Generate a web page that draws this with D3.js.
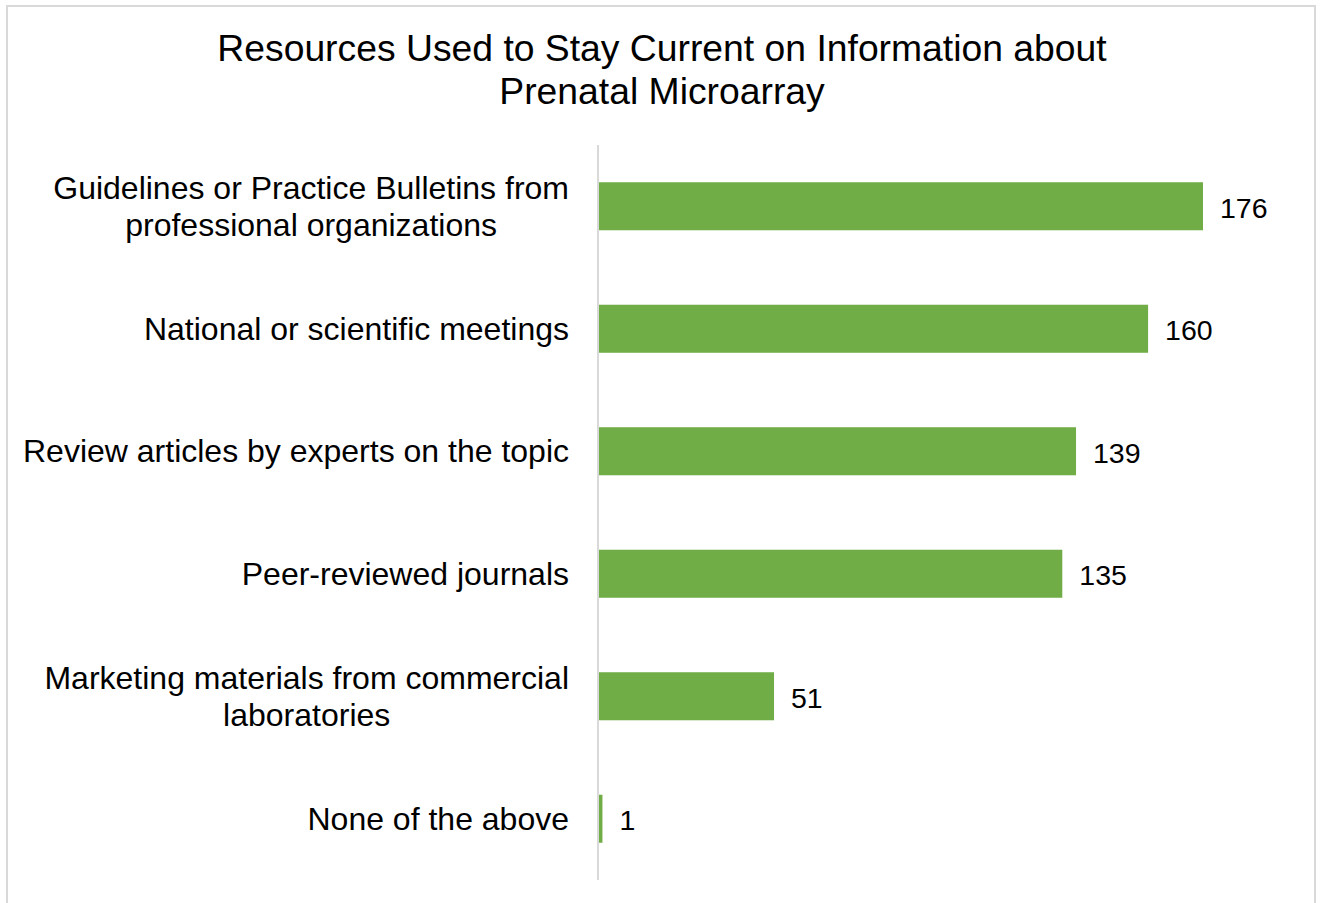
<!DOCTYPE html>
<html>
<head>
<meta charset="utf-8">
<script src="https://cdn.jsdelivr.net/npm/d3@7"></script>
<style>
  html, body { margin: 0; padding: 0; background: #fff; }
  svg { display: block; font-family: "Liberation Sans", Arial, sans-serif; }
</style>
</head>
<body>
<svg id="chart" width="1323" height="903"></svg>
<script>
// Survey responses: resources used to stay current on prenatal microarray
const categories = [
  ["Guidelines or Practice Bulletins from", "professional organizations"],
  ["National or scientific meetings"],
  ["Review articles by experts on the topic"],
  ["Peer-reviewed journals"],
  ["Marketing materials from commercial", "laboratories"],
  ["None of the above"]
];
const counts = [176, 160, 139, 135, 51, 1];
const titleLines = ["Resources Used to Stay Current on Information about", "Prenatal Microarray"];

const svg = d3.select("#chart");

// chart frame
svg.append("rect")
  .attr("x", 7).attr("y", 6)
  .attr("width", 1308).attr("height", 910)
  .attr("fill", "#fff")
  .attr("stroke", "#d9d9d9").attr("stroke-width", 2);

// title
svg.append("text")
  .attr("text-anchor", "middle")
  .attr("font-size", 37.3)
  .attr("fill", "#000")
  .selectAll("tspan")
  .data(titleLines)
  .join("tspan")
  .attr("x", 662)
  .attr("y", (d, i) => 61 + i * 43)
  .text(d => d);

const plot = { left: 599, top: 145, bottom: 880 };

const x = d3.scaleLinear()
  .domain([0, 176])
  .range([plot.left, 1203]);

const idx = d3.range(categories.length);
const y = d3.scaleBand()
  .domain(idx)
  .range([plot.top, plot.bottom])
  .paddingInner(0.608)
  .paddingOuter(0.304);

// bars
svg.append("g")
  .selectAll("rect")
  .data(idx)
  .join("rect")
  .attr("x", x(0))
  .attr("y", i => y(i))
  .attr("width", i => x(counts[i]) - x(0))
  .attr("height", y.bandwidth())
  .attr("fill", "#70ad47");

// vertical category axis line
svg.append("line")
  .attr("x1", 598).attr("x2", 598)
  .attr("y1", plot.top).attr("y2", plot.bottom)
  .attr("stroke", "#d9d9d9").attr("stroke-width", 2);

// value labels
svg.append("g")
  .selectAll("text")
  .data(idx)
  .join("text")
  .attr("x", i => x(counts[i]) + 17)
  .attr("y", i => y(i) + y.bandwidth() / 2)
  .attr("dy", "0.4em")
  .attr("font-size", 28.5)
  .attr("fill", "#000")
  .text(i => counts[i]);

// category labels: right-aligned block, lines centred within the block
const labelRight = 569;
const lineGap = 37;
const catG = svg.append("g");
idx.forEach(i => {
  const lines = categories[i];
  const cy = y(i) + y.bandwidth() / 2;
  const t = catG.append("text")
    .attr("font-size", 32)
    .attr("fill", "#000")
    .attr("text-anchor", "middle");
  const spans = t.selectAll("tspan")
    .data(lines)
    .join("tspan")
    .attr("y", (d, k) => cy + (k - (lines.length - 1) / 2) * lineGap + 11)
    .text(d => d);
  let maxW = 0;
  spans.each(function () { maxW = Math.max(maxW, this.getComputedTextLength()); });
  spans.attr("x", labelRight - maxW / 2);
});
</script>
</body>
</html>
